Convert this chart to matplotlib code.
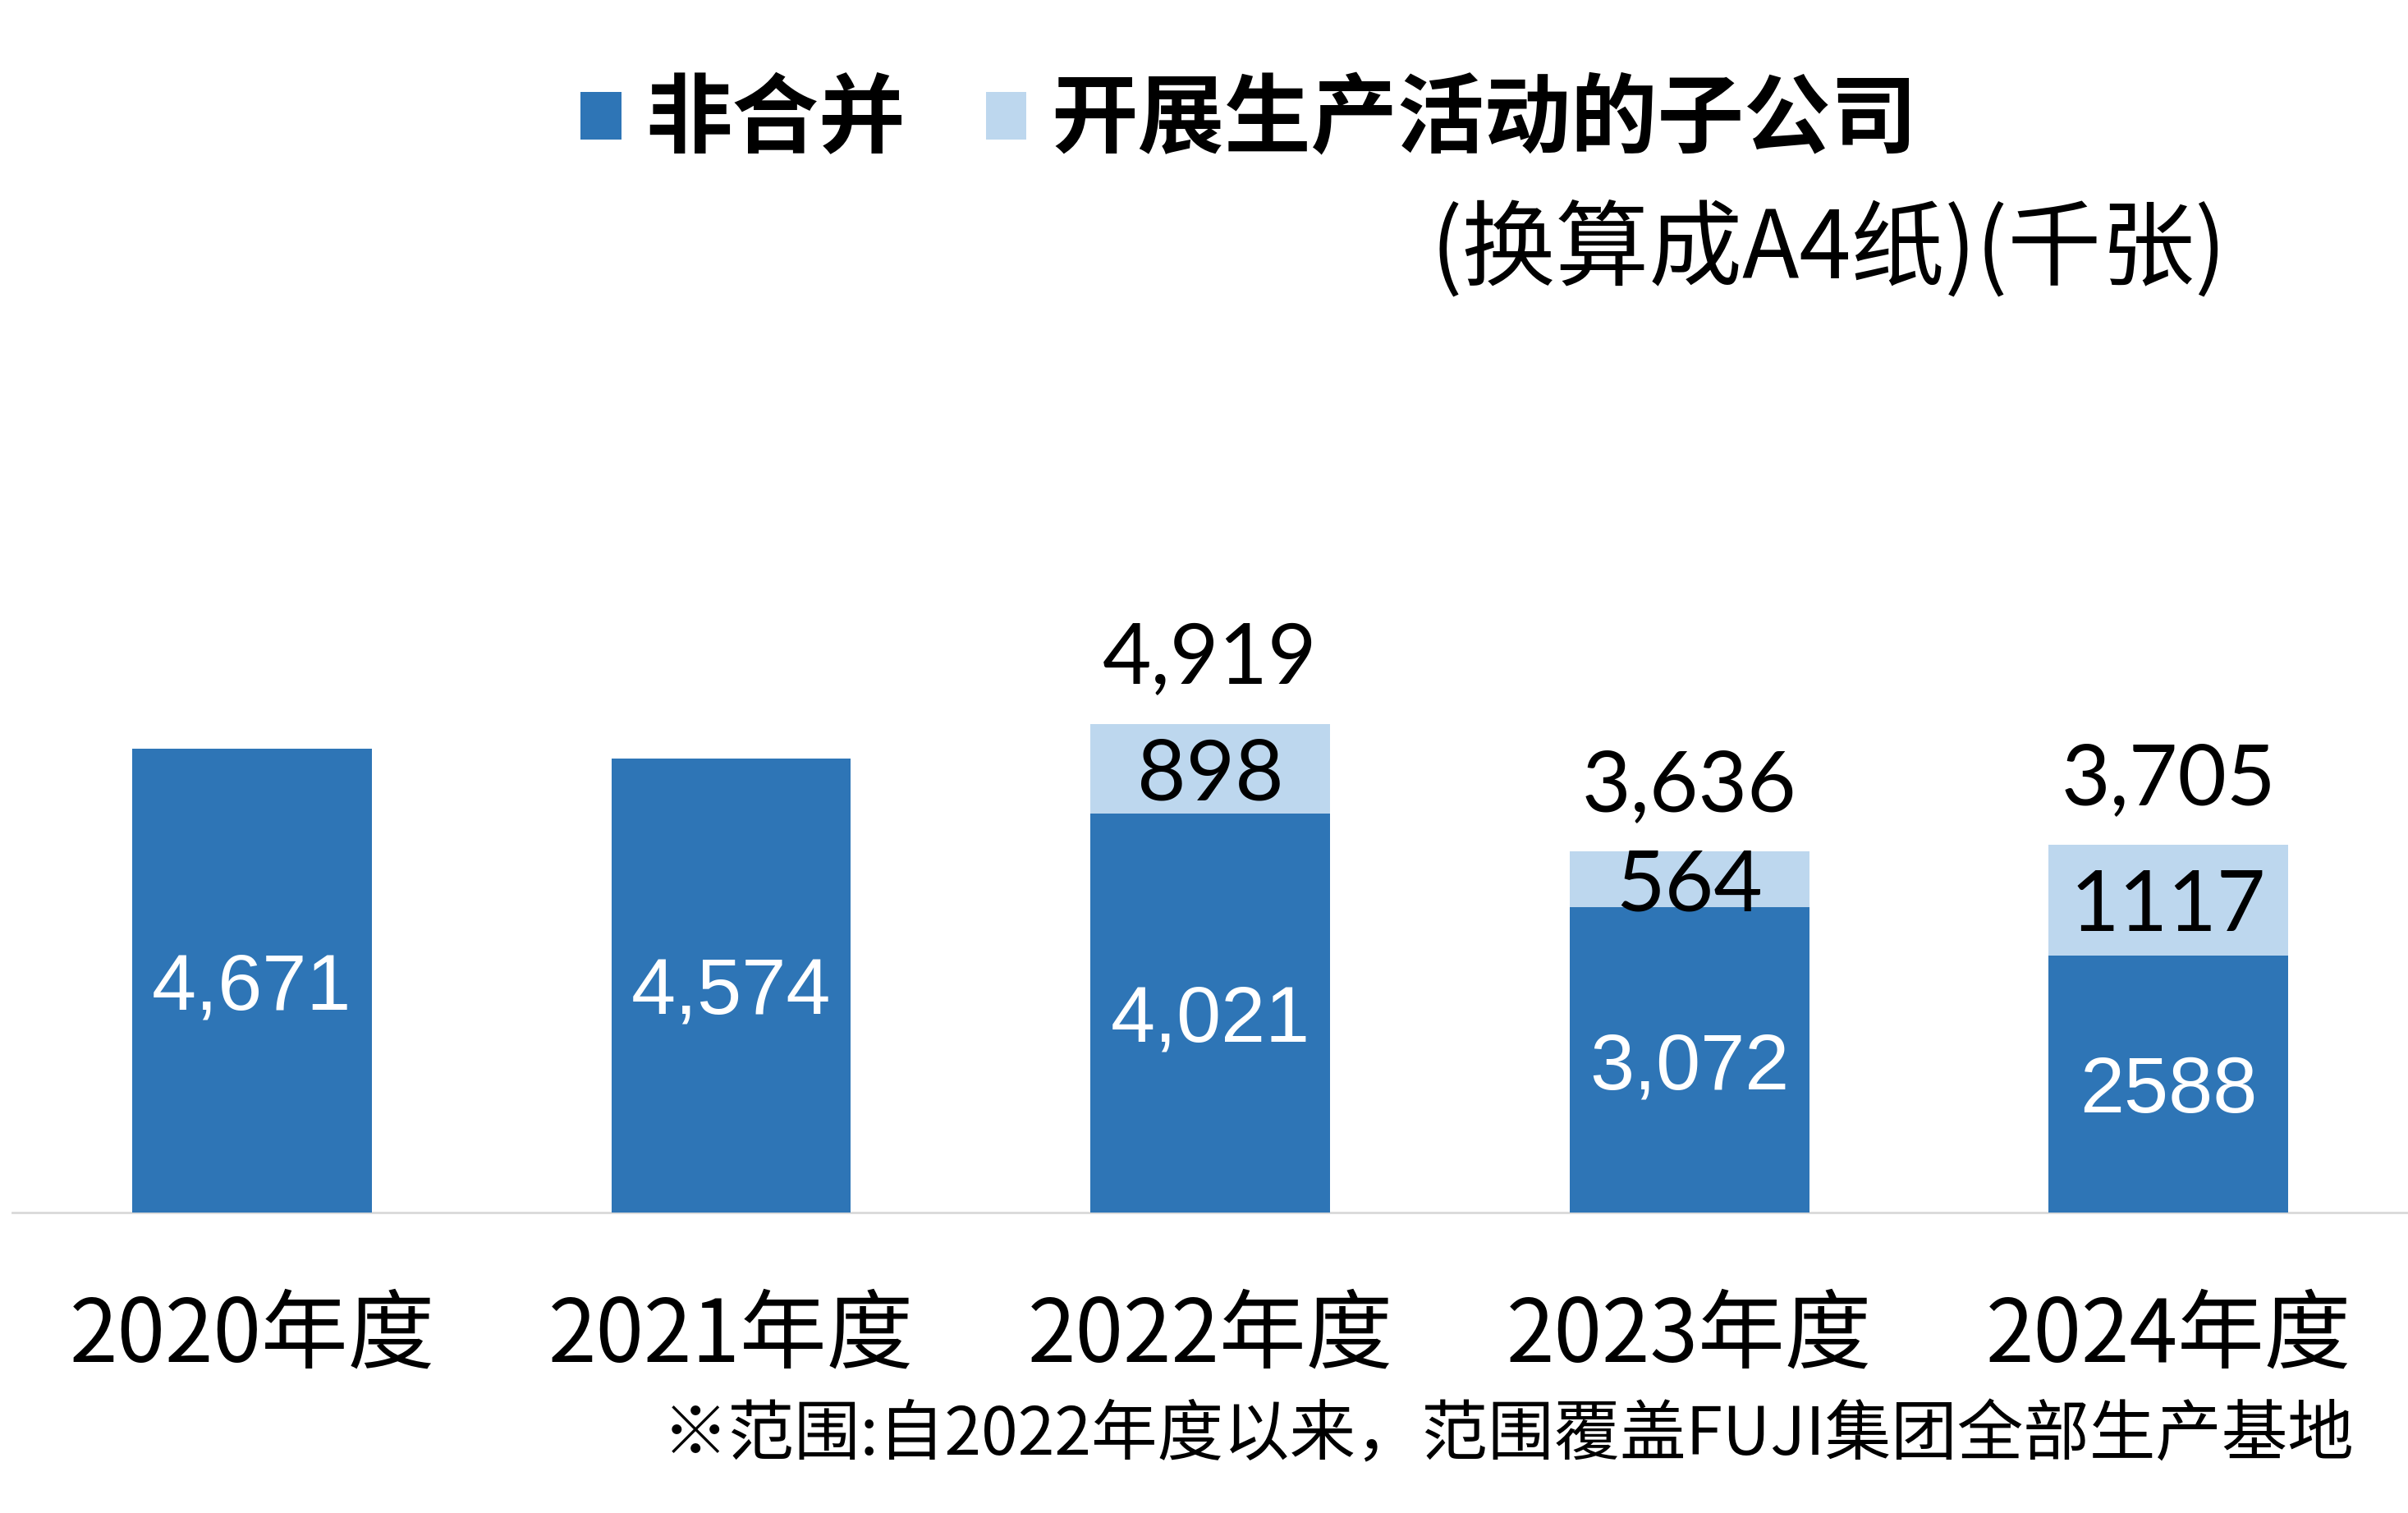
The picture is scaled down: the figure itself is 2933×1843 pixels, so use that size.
import matplotlib.pyplot as plt

# data (thousand sheets, A4 equivalent)
years = ["2020年度", "2021年度", "2022年度", "2023年度", "2024年度"]
non_consolidated = [4671, 4574, 4021, 3072, 2588]
subsidiaries = [0, 0, 898, 564, 1117]
use_comma = [True, True, True, True, False]

DARK = "#2E75B6"
LIGHT = "#BDD7EE"
CJK = ["Noto Sans CJK SC", "DejaVu Sans"]
NARROW = ["Liberation Sans Narrow", "Liberation Sans"]

plt.rcParams["font.family"] = CJK

W, H = 2933, 1843
fig = plt.figure(figsize=(W / 200, H / 200), dpi=200)
ax = fig.add_axes([15 / W, 1 - 1477 / H, 2918 / W, 0.3938])

x = list(range(len(years)))
b1 = ax.bar(x, non_consolidated, width=0.5, color=DARK, label="非合并", zorder=3)
b2 = ax.bar(x, subsidiaries, width=0.5, bottom=non_consolidated, color=LIGHT,
            label="开展生产活动的子公司", zorder=3)

ax.set_xlim(-0.5, 4.5)
ax.set_ylim(0, 6000)
for side in ["top", "left", "right"]:
    ax.spines[side].set_visible(False)
ax.spines["bottom"].set_color("#D9D9D9")
ax.spines["bottom"].set_linewidth(1.0)
ax.set_yticks([])
ax.set_xticks(x, years, fontsize=38)
ax.tick_params(axis="x", length=0, pad=35)

for i, (d, s) in enumerate(zip(non_consolidated, subsidiaries)):
    fmt = "{:,}" if use_comma[i] else "{}"
    ax.text(i, d / 2, fmt.format(d), ha="center", va="center_baseline",
            color="white", fontsize=35, family=NARROW, zorder=4)
    if s > 0:
        ax.text(i, d + s / 2, fmt.format(s), ha="center", va="center_baseline",
                color="black", fontsize=37, family="Lato", zorder=4)
        ax.annotate(f"{d + s:,}", xy=(i, d + s), xytext=(0, 17.6),
                    textcoords="offset points", ha="center", va="baseline",
                    fontsize=37, family="Lato")

fig.legend(handles=[b1, b2], loc="center left",
           bbox_to_anchor=(707 / W, 1 - 147 / H), ncol=2, frameon=False,
           prop={"family": CJK, "weight": "bold", "size": 38},
           handlelength=0.47, handleheight=0.47, handletextpad=0.28,
           columnspacing=0.93, borderpad=0, borderaxespad=0)

fig.text(2712 / W, 1 - 305 / H, "(换算成A4纸)(千张)", ha="right", va="center",
         fontsize=41)
fig.text(2868 / W, 1 - 1749 / H, "※范围:自2022年度以来，范围覆盖FUJI集团全部生产基地",
         ha="right", va="center", fontsize=29)

fig.savefig("out.png", dpi=200)
